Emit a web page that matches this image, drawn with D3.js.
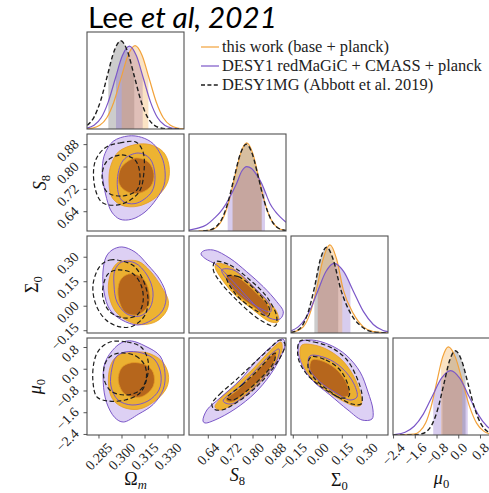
<!DOCTYPE html>
<html><head><meta charset="utf-8">
<script src="https://cdn.jsdelivr.net/npm/d3@7/dist/d3.min.js"></script>
<style>html,body{margin:0;padding:0;background:#fff}svg{display:block}</style>
</head><body><svg id="chart" width="489" height="493"></svg>
<script>
// ================= DATA =================
const titleParts = ["Lee ", "et al", ", 2021"];
const seriesNames = ["this work (base + planck)", "DESY1 redMaGiC + CMASS + planck", "DESY1MG (Abbott et al. 2019)"];
const seriesKeys = ["this", "desy1", "mg"];

const rangeOm = [0.2772, 0.3404], rangeS8 = [0.571, 0.918], rangeSig = [-0.164, 0.43], rangeMu = [-2.42, 1.15];
const ticksOm = [0.285, 0.300, 0.315, 0.330], tickLabelsOm = ["0.285", "0.300", "0.315", "0.330"];
const ticksS8 = [0.64, 0.72, 0.80, 0.88], tickLabelsS8 = ["0.64", "0.72", "0.80", "0.88"];
const ticksSig = [-0.15, 0, 0.15, 0.30], tickLabelsSig = ["\u22120.15", "0.00", "0.15", "0.30"];
const ticksMu = [-2.4, -1.6, -0.8, 0, 0.8], tickLabelsMu = ["\u22122.4", "\u22121.6", "\u22120.8", "0.0", "0.8"];

// 1D marginals [value, relative density]
const om_this = [[0.2763,0.002],[0.2809,0.0105],[0.2855,0.0415],[0.2901,0.128],[0.2947,0.307],[0.2993,0.573],[0.3039,0.834],[0.3085,0.945],[0.3131,0.834],[0.3177,0.573],[0.3223,0.307],[0.3269,0.128],[0.3315,0.0415],[0.3361,0.0105],[0.3407,0.002]];
const om_desy1 = [[0.2726,0.002],[0.2772,0.0104],[0.2818,0.0413],[0.2864,0.127],[0.2910,0.305],[0.2956,0.570],[0.3002,0.830],[0.3048,0.94],[0.3094,0.830],[0.3140,0.570],[0.3186,0.305],[0.3232,0.127],[0.3278,0.0413],[0.3324,0.0104],[0.3370,0.002]];
const om_mg = [[0.2731,0.011],[0.27745,0.044],[0.2818,0.135],[0.28615,0.325],[0.2905,0.607],[0.29485,0.883],[0.2992,1.0],[0.30355,0.883],[0.3079,0.607],[0.31225,0.325],[0.3166,0.135],[0.32095,0.044],[0.3253,0.011],[0.32965,0.002],[0.3384,0]];
const s8_this = [[0.6054,0.0003],[0.6484,0.011],[0.6699,0.044],[0.6914,0.135],[0.7129,0.325],[0.7344,0.607],[0.7559,0.883],[0.7774,1.0],[0.7989,0.883],[0.8204,0.607],[0.8419,0.325],[0.8634,0.135],[0.8849,0.044],[0.9064,0.011],[0.9279,0.002]];
const s8_desy1 = [[0.571,0.01],[0.600,0.03],[0.634,0.07],[0.660,0.14],[0.682,0.21],[0.700,0.29],[0.7177,0.39],[0.740,0.53],[0.760,0.68],[0.7774,0.73],[0.795,0.71],[0.812,0.64],[0.831,0.54],[0.845,0.43],[0.861,0.31],[0.880,0.22],[0.897,0.16],[0.918,0.10]];
const s8_mg = [[0.622,0.002],[0.644,0.011],[0.666,0.043],[0.688,0.133],[0.710,0.320],[0.732,0.598],[0.754,0.869],[0.776,0.985],[0.798,0.869],[0.820,0.598],[0.842,0.320],[0.864,0.133],[0.886,0.043],[0.908,0.011],[0.930,0.002]];
const sig_this = [[-0.164,0.005],[-0.14,0.015],[-0.089,0.07],[-0.048,0.22],[-0.007,0.5],[0.03,0.82],[0.0748,1.0],[0.115,0.84],[0.156,0.49],[0.218,0.22],[0.279,0.07],[0.340,0.015],[0.40,0.003],[0.43,0.001]];
const sig_desy1 = [[-0.164,0.024],[-0.12,0.069],[-0.08,0.153],[-0.04,0.29],[0.0,0.477],[0.05,0.697],[0.10,0.79],[0.16,0.693],[0.22,0.466],[0.28,0.242],[0.34,0.097],[0.40,0.029],[0.43,0.015]];
const sig_mg = [[-0.164,0.006],[-0.14,0.018],[-0.10,0.07],[-0.06,0.23],[-0.02,0.52],[0.015,0.83],[0.0546,0.972],[0.095,0.83],[0.14,0.5],[0.205,0.21],[0.27,0.07],[0.33,0.015],[0.40,0.003],[0.43,0.001]];
const mu_this = [[-2.42,0],[-1.64,0.011],[-1.43,0.044],[-1.22,0.135],[-1.014,0.325],[-0.804,0.607],[-0.594,0.883],[-0.384,1.0],[-0.124,0.883],[0.136,0.607],[0.396,0.325],[0.656,0.135],[0.916,0.044],[1.176,0.011]];
const mu_desy1 = [[-2.645,0.002],[-2.31,0.008],[-1.975,0.032],[-1.64,0.099],[-1.305,0.237],[-0.97,0.443],[-0.635,0.644],[-0.30,0.73],[0.035,0.644],[0.37,0.443],[0.705,0.237],[1.04,0.099],[1.375,0.032]];
const mu_mg = [[-2.42,0],[-1.6,0.002],[-1.387,0.0106],[-1.177,0.042],[-0.967,0.129],[-0.757,0.31],[-0.547,0.58],[-0.337,0.844],[-0.127,0.956],[0.108,0.844],[0.343,0.58],[0.578,0.31],[0.813,0.129],[1.048,0.042],[1.283,0.0106]];

// 68% intervals shaded under each 1D curve
const bandsOm = {this:[0.2998,0.3172], desy1:[0.2961,0.3135], mg:[0.2911,0.3080]};
const bandsS8 = {this:[0.727,0.831], desy1:[0.7094,0.8428], mg:[0.727,0.831]};
const bandsSig = {this:[0.0,0.15], desy1:[0.0,0.20], mg:[-0.021,0.125]};
const bandsMu = {this:[-0.65,0.13], desy1:[-0.94,0.33], mg:[-0.60,0.25]};

// 2D contours [x, y] : [95% contour, 68% contour]
const contOmS8 = {
  desy1:[[[0.3041,0.911],[0.3128,0.906],[0.3204,0.883],[0.3259,0.836],[0.3280,0.788],[0.3274,0.7345],[0.3226,0.6866],[0.3150,0.639],[0.3063,0.613],[0.2987,0.613],[0.2933,0.639],[0.2900,0.687],[0.2878,0.746],[0.2872,0.800],[0.2889,0.848],[0.2943,0.892]],
         [[0.3106,0.850],[0.3182,0.830],[0.3215,0.770],[0.3193,0.7105],[0.3085,0.669],[0.2998,0.681],[0.2969,0.746],[0.3008,0.824]]],
  this:[[[0.3085,0.880],[0.3182,0.880],[0.3269,0.854],[0.3306,0.806],[0.3298,0.746],[0.3226,0.693],[0.3106,0.660],[0.2998,0.663],[0.2933,0.693],[0.2915,0.758],[0.2928,0.806],[0.2976,0.854]],
        [[0.3085,0.832],[0.3171,0.818],[0.3208,0.776],[0.3189,0.732],[0.3117,0.707],[0.3037,0.7105],[0.2982,0.740],[0.2993,0.796]]],
  mg:[[[0.2889,0.868],[0.2987,0.886],[0.3091,0.889],[0.3137,0.854],[0.3143,0.782],[0.3111,0.7105],[0.2999,0.6676],[0.2876,0.671],[0.2824,0.725],[0.2824,0.818]],
      [[0.2993,0.843],[0.3085,0.825],[0.3117,0.771],[0.3098,0.718],[0.2999,0.696],[0.2902,0.7105],[0.2870,0.768],[0.2902,0.821]]]
};
const contOmSig = {
  desy1:[[[0.2935,0.344],[0.2999,0.363],[0.3085,0.332],[0.3169,0.252],[0.3248,0.161],[0.3287,0.069],[0.3267,-0.023],[0.3195,-0.084],[0.3104,-0.115],[0.2999,-0.084],[0.2922,-0.023],[0.2883,0.087],[0.2876,0.2095],[0.2896,0.301]],
         [[0.2999,0.271],[0.3085,0.265],[0.3163,0.191],[0.3202,0.087],[0.3182,-0.011],[0.3117,-0.060],[0.3033,-0.048],[0.2967,0.026],[0.2948,0.130],[0.2954,0.222]]],
  this:[[[0.2976,0.269],[0.3020,0.279],[0.3106,0.275],[0.3182,0.2175],[0.3259,0.116],[0.3302,0.034],[0.3291,-0.027],[0.3226,-0.092],[0.3128,-0.113],[0.3041,-0.092],[0.2954,-0.027],[0.2911,0.095],[0.2933,0.2175]],
        [[0.3041,0.197],[0.3117,0.185],[0.3161,0.136],[0.3182,0.034],[0.3150,-0.023],[0.3091,-0.054],[0.3020,-0.037],[0.2976,0.055],[0.2987,0.156]]],
  mg:[[[0.2857,0.246],[0.2922,0.283],[0.2999,0.277],[0.3078,0.246],[0.3137,0.161],[0.3169,0.050],[0.3150,-0.054],[0.3072,-0.121],[0.2987,-0.127],[0.2896,-0.084],[0.2831,0.007],[0.2811,0.130]],
      [[0.2974,0.222],[0.3065,0.203],[0.3124,0.130],[0.3137,0.026],[0.3098,-0.054],[0.3013,-0.072],[0.2922,-0.035],[0.2876,0.050],[0.2883,0.148],[0.2915,0.203]]]
};
const contS8Sig = {
  desy1:[[[0.622,0.338],[0.658,0.344],[0.7177,0.293],[0.7774,0.211],[0.8368,0.1195],[0.8848,0.028],[0.9084,-0.034],[0.897,-0.078],[0.861,-0.074],[0.801,0.018],[0.7295,0.150],[0.670,0.252],[0.628,0.293],[0.614,0.320]],
         [[0.688,0.222],[0.7295,0.222],[0.801,0.1195],[0.861,0.007],[0.8633,-0.034],[0.825,-0.013],[0.7417,0.099]]],
  this:[[[0.670,0.263],[0.7177,0.242],[0.7774,0.161],[0.8368,0.058],[0.8848,-0.034],[0.8905,-0.095],[0.861,-0.095],[0.801,-0.023],[0.7295,0.079],[0.682,0.181],[0.664,0.242]],
        [[0.7059,0.191],[0.7417,0.181],[0.8132,0.079],[0.8547,-0.003],[0.851,-0.054],[0.801,-0.003],[0.7295,0.099]]],
  mg:[[[0.664,0.273],[0.7177,0.252],[0.789,0.161],[0.849,0.058],[0.8848,-0.064],[0.879,-0.121],[0.825,-0.084],[0.7417,0.038],[0.682,0.150],[0.658,0.222]],
      [[0.7059,0.181],[0.7474,0.181],[0.825,0.069],[0.8583,-0.013],[0.8547,-0.060],[0.8071,-0.023],[0.7356,0.079]]]
};
const contOmMu = {
  desy1:[[[0.3063,1.04],[0.3150,0.856],[0.3248,0.488],[0.3280,-0.127],[0.3269,-0.738],[0.3204,-1.290],[0.3106,-1.658],[0.3008,-1.942],[0.2954,-1.783],[0.2900,-1.231],[0.2878,-0.495],[0.2889,0.241],[0.2954,0.793],[0.3008,1.003]],
         [[0.3020,0.635],[0.3130,0.598],[0.3215,0.340],[0.3254,-0.212],[0.3241,-0.764],[0.3169,-1.169],[0.3065,-1.316],[0.2974,-1.132],[0.2928,-0.617],[0.2935,0.046],[0.2961,0.451]]],
  this:[[[0.3041,0.609],[0.3161,0.609],[0.3259,0.304],[0.3302,-0.186],[0.3291,-0.679],[0.3215,-1.169],[0.3106,-1.474],[0.2998,-1.378],[0.2933,-1.047],[0.2911,-0.370],[0.2933,0.241],[0.2976,0.513]],
        [[0.3063,0.241],[0.3156,0.156],[0.3204,-0.127],[0.3204,-0.617],[0.3128,-1.010],[0.3020,-0.922],[0.2976,-0.432],[0.2998,0.057]]],
  mg:[[[0.2922,1.003],[0.3033,1.003],[0.3124,0.819],[0.3169,0.340],[0.3163,-0.322],[0.3117,-0.874],[0.3020,-1.132],[0.2909,-1.169],[0.2837,-1.021],[0.2811,-0.469],[0.2818,0.267],[0.2850,0.708]],
      [[0.2993,0.598],[0.3091,0.488],[0.3150,0.120],[0.3156,-0.396],[0.3111,-0.801],[0.3020,-0.948],[0.2928,-0.801],[0.2883,-0.359],[0.2889,0.193],[0.2928,0.488]]]
};
const contS8Mu = {
  desy1:[[[0.621,-1.905],[0.635,-1.500],[0.682,-1.058],[0.7535,-0.396],[0.811,0.304],[0.868,0.856],[0.907,1.113],[0.9145,0.892],[0.897,0.414],[0.861,-0.212],[0.807,-0.874],[0.7356,-1.463],[0.664,-1.868],[0.628,-1.978]],
         [[0.693,-1.169],[0.7463,-0.690],[0.807,-0.064],[0.861,0.524],[0.893,0.745],[0.886,0.340],[0.839,-0.285],[0.782,-0.874],[0.721,-1.279]]],
  this:[[[0.664,-1.389],[0.689,-1.021],[0.739,-0.580],[0.796,-0.028],[0.843,0.488],[0.882,0.892],[0.900,1.003],[0.904,0.708],[0.882,0.267],[0.839,-0.322],[0.782,-0.911],[0.725,-1.316],[0.682,-1.500]],
        [[0.703,-1.132],[0.7535,-0.690],[0.811,-0.101],[0.861,0.451],[0.882,0.635],[0.875,0.267],[0.832,-0.285],[0.775,-0.837],[0.725,-1.205]]],
  mg:[[[0.653,-1.279],[0.682,-0.911],[0.739,-0.396],[0.796,0.156],[0.854,0.708],[0.897,1.076],[0.9145,0.929],[0.900,0.488],[0.861,-0.101],[0.804,-0.727],[0.739,-1.242],[0.689,-1.500],[0.660,-1.463]],
      [[0.707,-1.058],[0.761,-0.580],[0.818,-0.028],[0.864,0.488],[0.879,0.598],[0.875,0.267],[0.836,-0.248],[0.782,-0.764],[0.728,-1.132]]]
};
const contSigMu = {
  desy1:[[[-0.109,1.003],[-0.035,1.076],[0.075,0.892],[0.173,0.524],[0.259,-0.101],[0.3075,-0.837],[0.338,-1.500],[0.332,-1.831],[0.271,-1.868],[0.185,-1.500],[0.075,-0.948],[-0.035,-0.396],[-0.097,0.156],[-0.121,0.708]],
         [[-0.048,0.488],[0.050,0.414],[0.148,0.046],[0.222,-0.543],[0.240,-1.021],[0.197,-1.132],[0.112,-0.874],[0.014,-0.469],[-0.054,0.046]]],
  this:[[[-0.097,0.892],[-0.023,0.892],[0.063,0.708],[0.148,0.340],[0.216,-0.212],[0.259,-0.837],[0.265,-1.316],[0.228,-1.353],[0.154,-1.169],[0.063,-0.837],[-0.023,-0.432],[-0.084,0.083],[-0.109,0.524]],
        [[-0.035,0.340],[0.044,0.267],[0.124,-0.064],[0.179,-0.543],[0.191,-0.948],[0.148,-1.021],[0.075,-0.764],[-0.005,-0.396],[-0.048,-0.028]]],
  mg:[[[-0.109,1.040],[-0.023,1.003],[0.087,0.782],[0.179,0.340],[0.240,-0.322],[0.271,-0.948],[0.265,-1.279],[0.210,-1.279],[0.124,-1.021],[0.014,-0.617],[-0.078,-0.101],[-0.121,0.451]],
      [[-0.042,0.451],[0.050,0.340],[0.136,-0.028],[0.185,-0.580],[0.191,-0.985],[0.142,-1.058],[0.063,-0.764],[-0.017,-0.359],[-0.060,0.083]]]
};

// axis label pieces: [text, italic, subscript]
const axisLabelOm = [["\u03A9",0,0],["m",1,1]];
const axisLabelS8 = [["S",1,0],["8",0,1]];
const axisLabelSig = [["\u03A3",0,0],["0",0,1]];
const axisLabelMu = [["\u03BC",1,0],["0",0,1]];

// ================= DRAWING =================
const params = [
  {range:rangeOm, ticks:ticksOm, labels:tickLabelsOm, axisLabel:axisLabelOm, diag:{this:om_this, desy1:om_desy1, mg:om_mg}, bands:bandsOm},
  {range:rangeS8, ticks:ticksS8, labels:tickLabelsS8, axisLabel:axisLabelS8, diag:{this:s8_this, desy1:s8_desy1, mg:s8_mg}, bands:bandsS8},
  {range:rangeSig, ticks:ticksSig, labels:tickLabelsSig, axisLabel:axisLabelSig, diag:{this:sig_this, desy1:sig_desy1, mg:sig_mg}, bands:bandsSig},
  {range:rangeMu, ticks:ticksMu, labels:tickLabelsMu, axisLabel:axisLabelMu, diag:{this:mu_this, desy1:mu_desy1, mg:mu_mg}, bands:bandsMu}
];
const pairs = [
  {xi:0, yi:1, c:contOmS8}, {xi:0, yi:2, c:contOmSig}, {xi:1, yi:2, c:contS8Sig},
  {xi:0, yi:3, c:contOmMu}, {xi:1, yi:3, c:contS8Mu}, {xi:2, yi:3, c:contSigMu}
];

const W = 489, H = 493;
const colLeft = [87, 189, 291, 393], rowTop = [32, 134, 236, 338], S = 97;
const serif = "'Liberation Serif','Times New Roman',serif";
const lineCol = {this:"#f2a23a", desy1:"#7b57c8", mg:"#1e1e1e"};
const bandFill = {this:"#f2a23a", desy1:"#7b57c8", mg:"#7a7a7a"};
const bandOp = {this:0.3, desy1:0.3, mg:0.38};

const svg = d3.select("#chart");
svg.append("rect").attr("width", W).attr("height", H).attr("fill", "#fff");
const defs = svg.append("defs");

const xs = params.map((p, i) => d3.scaleLinear().domain(p.range).range([colLeft[i], colLeft[i] + S]));
const ys = params.map((p, i) => d3.scaleLinear().domain(p.range).range([rowTop[i] + S, rowTop[i]]));

function clipRect(id, x, y, w, h) {
  defs.append("clipPath").attr("id", id).append("rect").attr("x", x).attr("y", y).attr("width", w).attr("height", h);
  return `url(#${id})`;
}

// ---- diagonal 1D panels ----
params.forEach((p, i) => {
  const x = xs[i];
  const y = d3.scaleLinear().domain([0, 1.1]).range([rowTop[i] + S, rowTop[i]]);
  const g = svg.append("g").attr("clip-path", clipRect("cd" + i, colLeft[i], rowTop[i], S, S));
  const area = d3.area().x(d => x(d[0])).y0(y(0)).y1(d => y(d[1])).curve(d3.curveMonotoneX);
  const line = d3.line().x(d => x(d[0])).y(d => y(d[1])).curve(d3.curveMonotoneX);
  ["mg", "desy1", "this"].forEach(k => {
    const b = p.bands[k];
    g.append("g").attr("clip-path", clipRect(`cb${i}${k}`, x(b[0]), rowTop[i], x(b[1]) - x(b[0]), S))
      .append("path").attr("d", area(p.diag[k])).attr("fill", bandFill[k]).attr("fill-opacity", bandOp[k]);
  });
  ["this", "desy1", "mg"].forEach(k => {
    const path = g.append("path").attr("d", line(p.diag[k])).attr("fill", "none")
      .attr("stroke", lineCol[k]).attr("stroke-width", k === "mg" ? 1.4 : 1.2);
    if (k === "mg") path.attr("stroke-dasharray", "4.5,2.6");
  });
});

// ---- 2D panels ----
pairs.forEach((p, n) => {
  const x = xs[p.xi], y = ys[p.yi];
  const g = svg.append("g").attr("clip-path", clipRect("cp" + n, colLeft[p.xi], rowTop[p.yi], S, S));
  const line = d3.line().x(d => x(d[0])).y(d => y(d[1])).curve(d3.curveCatmullRomClosed.alpha(0.5));
  g.append("path").attr("d", line(p.c.desy1[0])).attr("fill", "#ddd0f4");
  g.append("path").attr("d", line(p.c.desy1[1])).attr("fill", "#cdbcef");
  g.append("path").attr("d", line(p.c.this[0])).attr("fill", "rgb(240,174,18)").attr("fill-opacity", 0.86);
  g.append("path").attr("d", line(p.c.this[1])).attr("fill", "rgb(172,88,24)").attr("fill-opacity", 0.84);
  p.c.this.forEach(c => g.append("path").attr("d", line(c)).attr("fill", "none").attr("stroke", "#e59a26").attr("stroke-width", 0.8));
  p.c.desy1.forEach(c => g.append("path").attr("d", line(c)).attr("fill", "none").attr("stroke", lineCol.desy1).attr("stroke-width", 1));
  p.c.mg.forEach(c => g.append("path").attr("d", line(c)).attr("fill", "none").attr("stroke", lineCol.mg)
    .attr("stroke-width", 1.2).attr("stroke-dasharray", "4.5,2.6"));
});

// ---- frames ----
const frames = [];
for (let r = 0; r < 4; r++) for (let c = 0; c <= r; c++) frames.push([c, r]);
svg.selectAll("rect.frame").data(frames).enter().append("rect").attr("class", "frame")
  .attr("x", d => colLeft[d[0]]).attr("y", d => rowTop[d[1]]).attr("width", S).attr("height", S)
  .attr("fill", "none").attr("stroke", "#505050").attr("stroke-width", 1.1);

// ---- ticks & tick labels ----
const tickFS = 14, tickLen = 3.5, pad = 7;
function rotLabel(str, mode, tx, ty) {
  const t = svg.append("text").attr("font-family", serif).attr("font-size", tickFS).attr("fill", "#222")
    .attr("text-anchor", "middle").attr("dominant-baseline", "central").text(str);
  const L = t.node().getComputedTextLength();
  const side = (L + tickFS * 0.7) / Math.SQRT2;
  let cx, cy;
  if (mode === "x") { cx = tx; cy = ty + pad + side / 2; }
  else { cx = tx - pad - side / 2; cy = ty + 6; }
  t.attr("transform", `translate(${cx},${cy}) rotate(-45)`);
}
const bottomY = rowTop[3] + S;
params.forEach((p, i) => {
  const x = xs[i];
  p.ticks.forEach((v, k) => {
    svg.append("line").attr("x1", x(v)).attr("x2", x(v)).attr("y1", bottomY).attr("y2", bottomY + tickLen)
      .attr("stroke", "#444").attr("stroke-width", 0.9);
    rotLabel(p.labels[k], "x", x(v), bottomY);
  });
  if (i > 0) {
    const y = ys[i];
    p.ticks.forEach((v, k) => {
      svg.append("line").attr("x1", colLeft[0] - tickLen).attr("x2", colLeft[0]).attr("y1", y(v)).attr("y2", y(v))
        .attr("stroke", "#444").attr("stroke-width", 0.9);
      rotLabel(p.labels[k], "y", colLeft[0], y(v));
    });
  }
});

// ---- axis labels ----
function mathText(sel, parts, fs) {
  parts.forEach(pt => {
    const ts = sel.append("tspan").text(pt[0]).attr("font-style", pt[1] ? "italic" : "normal");
    if (pt[2]) ts.attr("font-size", fs * 0.7).attr("dy", fs * 0.2);
  });
}
const axFS = 18;
const xLabelBase = [485, 481, 486, 484];
params.forEach((p, i) => {
  const t = svg.append("text").attr("font-family", serif).attr("font-size", axFS).attr("fill", "#111")
    .attr("text-anchor", "middle").attr("x", colLeft[i] + S / 2).attr("y", xLabelBase[i]);
  mathText(t, p.axisLabel, axFS);
});
const yLabelBase = [0, 46, 38, 41];
[1, 2, 3].forEach(i => {
  const cy = rowTop[i] + S / 2;
  const t = svg.append("text").attr("font-family", serif).attr("font-size", axFS).attr("fill", "#111")
    .attr("text-anchor", "middle").attr("transform", `translate(${yLabelBase[i]},${cy}) rotate(-90)`);
  mathText(t, params[i].axisLabel, axFS);
});

// ---- legend ----
const legY = [47, 66, 85];
const legG = svg.append("g");
const legTexts = seriesKeys.map((k, i) => {
  const l = legG.append("line").attr("x1", 201).attr("x2", 219).attr("y1", legY[i]).attr("y2", legY[i])
    .attr("stroke", lineCol[k]).attr("stroke-width", 1.2);
  if (k === "mg") l.attr("stroke-dasharray", "4,2.4").attr("stroke-width", 1.3);
  return legG.append("text").attr("x", 222).attr("y", legY[i] + 4.6).attr("font-family", serif)
    .attr("font-size", 15).attr("fill", "#222").text(seriesNames[i]);
});
const w2 = legTexts[1].node().getComputedTextLength();
const legFS = 15 * 260 / w2;
legTexts.forEach(t => t.attr("font-size", legFS));

// ---- title ----
const title = svg.append("text").attr("x", 88).attr("y", 28).attr("font-family", "Lato,'Open Sans',sans-serif")
  .attr("font-size", 25).attr("fill", "#000");
title.append("tspan").text(titleParts[0]);
title.append("tspan").attr("font-style", "italic").text(titleParts[1]);
title.append("tspan").attr("font-style", "italic").text(titleParts[2]);
const tw = title.node().getComputedTextLength();
title.attr("font-size", 25 * 189 / tw);
</script></body></html>
